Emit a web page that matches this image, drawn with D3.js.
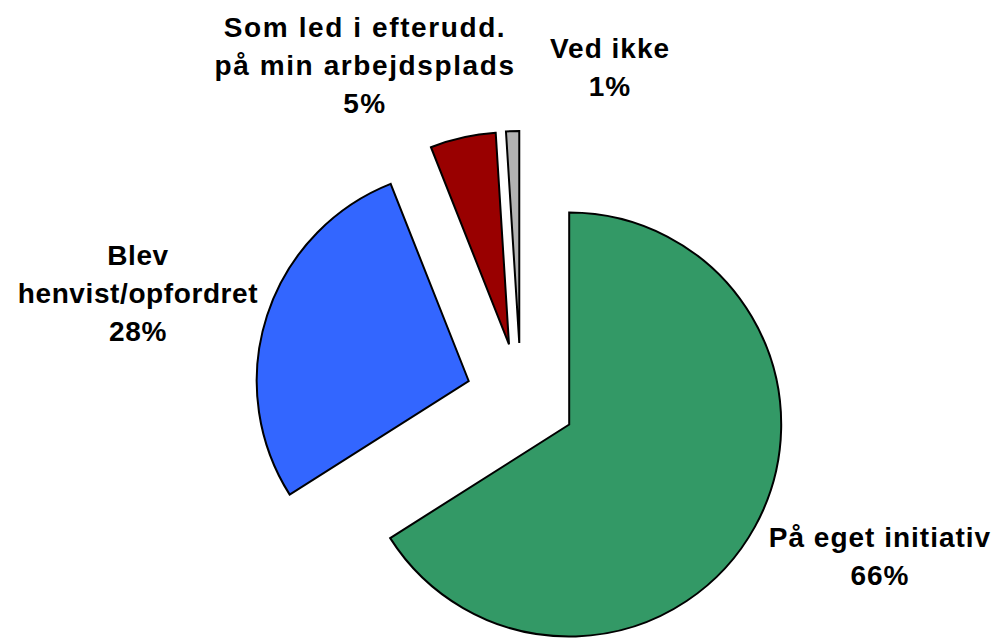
<!DOCTYPE html>
<html>
<head>
<meta charset="utf-8">
<script src="https://cdn.jsdelivr.net/npm/d3@7"></script>
<style>
  body { margin: 0; background: #fff; }
  svg { display: block; }
  .lbl { font-family: "Liberation Sans", Arial, sans-serif; font-weight: bold; font-size: 28px; fill: #000; }
</style>
</head>
<body>
<svg id="chart" width="997" height="638"></svg>
<script>
// data
var categories = ["På eget initiativ", "Blev henvist/opfordret", "Som led i efterudd. på min arbejdsplads", "Ved ikke"];
var values = [66, 28, 5, 1];
var labelLines = [
    ["På eget initiativ"],
    ["Blev", "henvist/opfordret"],
    ["Som led i efterudd.", "på min arbejdsplads"],
    ["Ved ikke"]
];
var colors = ["#339966", "#3366ff", "#990000", "#b3b3b3"];

// layout
var width = 997, height = 638;
var cx = 521, cy = 398, radius = 212, explode = 55;
var lineHeight = 38;
var labelAnchors = [[880, 547], [138, 265], [365, 37], [610, 58]];
var labelSpacing = [1, 0.6, 1.6, 1];

var svg = d3.select("#chart");

var pie = d3.pie()
    .sort(null)
    .value(d => d.value);
var arc = d3.arc()
    .innerRadius(0)
    .outerRadius(radius);

var data = categories.map((c, i) => ({ name: c, value: values[i], lines: labelLines[i], color: colors[i] }));
var arcs = pie(data);
var total = d3.sum(values);

var g = svg.append("g")
    .attr("transform", `translate(${cx},${cy})`);

// exploded slices, each pushed out along its bisector
g.selectAll("path.slice")
    .data(arcs)
    .enter().append("path")
    .attr("class", "slice")
    .attr("d", arc)
    .attr("fill", d => d.data.color)
    .attr("stroke", "#000")
    .attr("stroke-width", 2)
    .attr("stroke-linejoin", "miter")
    .attr("transform", d => {
        var mid = (d.startAngle + d.endAngle) / 2;
        return `translate(${Math.sin(mid) * explode},${-Math.cos(mid) * explode})`;
    });

var labels = svg.selectAll("text.lbl")
    .data(arcs)
    .enter().append("text")
    .attr("class", "lbl")
    .attr("text-anchor", "middle")
    .attr("letter-spacing", (d, i) => labelSpacing[i]);

labels.each(function (d, i) {
    var t = d3.select(this);
    var lines = d.data.lines.concat([Math.round(d.data.value / total * 100) + "%"]);
    lines.forEach((ln, k) => {
        t.append("tspan")
            .attr("x", labelAnchors[i][0])
            .attr("y", labelAnchors[i][1] + k * lineHeight)
            .text(ln);
    });
});
</script>
</body>
</html>
